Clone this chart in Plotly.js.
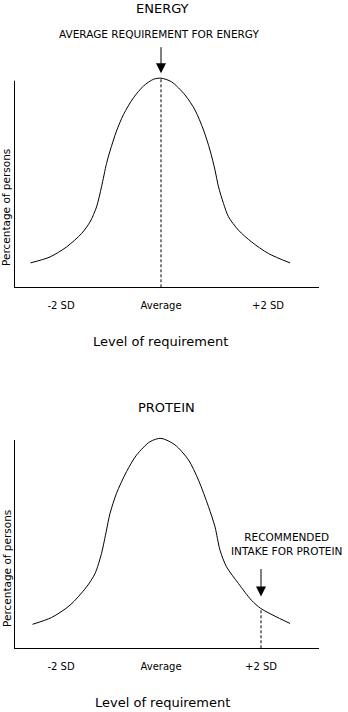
<!DOCTYPE html>
<html><head><meta charset="utf-8">
<script src="https://cdn.plot.ly/plotly-3.0.1.min.js"></script>
<style>html,body{margin:0;padding:0;background:#fff}#chart{width:348px;height:712px}</style>
</head><body><div id="chart"></div>
<script>
// ---- data (x in SD units from the average, y = relative share of persons) ----
var energySD  = [-2.61, -2.22, -1.89, -1.59, -1.42, -1.29, -1.19, -1.09, -1.02, -0.89, -0.75, -0.55, -0.35, -0.15, 0, 0.21, 0.48, 0.68, 0.85, 0.98, 1.08, 1.15, 1.25, 1.35, 1.55, 1.81, 2.15, 2.58];
var energyPct = [0.115, 0.143, 0.190, 0.253, 0.308, 0.378, 0.473, 0.583, 0.642, 0.736, 0.814, 0.893, 0.948, 0.980, 0.985, 0.968, 0.906, 0.835, 0.741, 0.646, 0.552, 0.473, 0.395, 0.332, 0.269, 0.214, 0.159, 0.115];
var proteinSD  = [-2.57, -2.19, -1.82, -1.49, -1.32, -1.19, -1.09, -1.02, -0.89, -0.69, -0.49, -0.22, 0, 0.28, 0.55, 0.75, 0.95, 1.08, 1.18, 1.31, 1.55, 1.81, 2.0, 2.58];
var proteinPct = [0.113, 0.145, 0.203, 0.289, 0.352, 0.447, 0.557, 0.635, 0.730, 0.832, 0.910, 0.973, 0.989, 0.958, 0.887, 0.792, 0.667, 0.572, 0.462, 0.384, 0.305, 0.226, 0.187, 0.117];
var energyAverageSD = 0, energyAtAverage = 0.985;
var proteinRecommendedSD = 2.0, proteinAtRecommended = 0.187;
var tickLabels = ['-2 SD', 'Average', '+2 SD'];
var energyTickSD = [-2, 0, 2.14];
var proteinTickSD = [-2, 0, 2];
var panelTitles = ['ENERGY', 'PROTEIN'];
var energyNote = 'AVERAGE REQUIREMENT FOR ENERGY';
var proteinNote = 'RECOMMENDED<br>INTAKE FOR PROTEIN';
var xTitle = 'Level of requirement';
var yTitle = 'Percentage of persons';

// ---- layout helpers ----
var W = 348, H = 712;
function px(v){ return v / W; }
function py(v){ return 1 - v / H; }
var FONT = 'DejaVu Sans';
var ink = '#000';

var traces = [
  {x: energySD, y: energyPct, xaxis: 'x', yaxis: 'y', mode: 'lines',
   line: {color: ink, width: 1, shape: 'spline', smoothing: 0.8}},
  {x: [energyAverageSD, energyAverageSD], y: [0, energyAtAverage], xaxis: 'x', yaxis: 'y', mode: 'lines',
   line: {color: ink, width: 1, dash: '3px,2px'}},
  {x: proteinSD, y: proteinPct, xaxis: 'x2', yaxis: 'y2', mode: 'lines',
   line: {color: ink, width: 1, shape: 'spline', smoothing: 0.8}},
  {x: [proteinRecommendedSD, proteinRecommendedSD], y: [0, proteinAtRecommended], xaxis: 'x2', yaxis: 'y2', mode: 'lines',
   line: {color: ink, width: 1, dash: '3px,2px'}}
];

var xr = [-2.94, 3.16];
function xax(dom, ticks, anchor){
  return {domain: dom, range: xr, anchor: anchor, showgrid: false, zeroline: false,
    showline: true, linecolor: ink, linewidth: 1, ticks: '',
    tickvals: ticks, ticktext: tickLabels, ticklabelstandoff: 9,
    tickfont: {family: FONT, size: 10, color: ink}, fixedrange: true};
}
function yax(dom, anchor){
  return {domain: dom, range: [0, 1], anchor: anchor, showgrid: false, zeroline: false,
    showline: false, showticklabels: false, ticks: '', fixedrange: true};
}
function label(text, x, y, size, extra){
  var a = {text: text, xref: 'paper', yref: 'paper', x: px(x), y: py(y), showarrow: false,
    xanchor: 'center', yanchor: 'middle', font: {size: size}};
  for (var k in (extra || {})) a[k] = extra[k];
  return a;
}
function arrow(xref, yref, x, y, ay, standoff){
  return {text: ' ', xref: xref, yref: yref, x: x, y: y, ax: 0, ay: ay, showarrow: true,
    arrowhead: 2, arrowsize: 2, arrowwidth: 1, arrowcolor: ink, standoff: standoff,
    font: {size: 1}, borderpad: 0, xanchor: 'center', yanchor: 'middle'};
}

var xDom = [px(14), px(319)];
var layout = {
  width: W, height: H, margin: {l: 0, r: 0, t: 0, b: 0},
  paper_bgcolor: '#fff', plot_bgcolor: '#fff', showlegend: false, hovermode: false,
  font: {family: FONT, color: ink},
  xaxis: xax(xDom, energyTickSD, 'y'),
  yaxis: yax([py(287.3), py(75)], 'x'),
  xaxis2: xax(xDom, proteinTickSD, 'y2'),
  yaxis2: yax([py(648.3), py(436)], 'x2'),
  shapes: [
    {type: 'line', xref: 'paper', yref: 'paper', x0: px(14.5), x1: px(14.5), y0: py(287.3), y1: py(80.7), line: {color: ink, width: 1}},
    {type: 'line', xref: 'paper', yref: 'paper', x0: px(14.5), x1: px(14.5), y0: py(648.3), y1: py(440), line: {color: ink, width: 1}}
  ],
  annotations: [
    label(panelTitles[0], 162.5, 8.5, 13),
    label(energyNote, 159, 34, 10.5),
    arrow('x', 'y', energyAverageSD, energyAtAverage, -32, 5),
    label(xTitle, 160.3, 341.7, 13),
    label(yTitle, 6.5, 207.5, 10.5, {textangle: -90}),

    label(panelTitles[1], 166.7, 407.5, 13),
    label(proteinNote, 286.5, 544.3, 10.5, {align: 'center'}),
    arrow('x2', 'y2', proteinRecommendedSD, proteinAtRecommended, -40.5, 12),
    label(xTitle, 162.8, 702, 13),
    label(yTitle, 6.5, 568.5, 10.5, {textangle: -90})
  ]
};

Plotly.newPlot('chart', traces, layout, {staticPlot: true, displayModeBar: false});
</script></body></html>
